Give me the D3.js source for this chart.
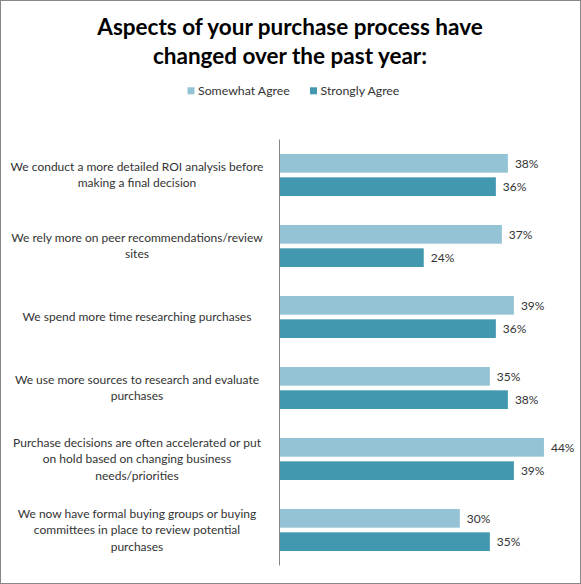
<!DOCTYPE html>
<html>
<head>
<meta charset="utf-8">
<script src="https://cdn.jsdelivr.net/npm/d3@7/dist/d3.min.js"></script>
<style>
html,body{margin:0;padding:0;background:#fff;}
svg{display:block;}
text{font-family:Lato,"Open Sans",sans-serif;}
</style>
</head>
<body>
<svg id="chart" width="581" height="584"></svg>
<script>
const titleLines = ["Aspects of your purchase process have", "changed over the past year:"];
const categories = [
  "We conduct a more detailed ROI analysis before\nmaking a final decision",
  "We rely more on peer recommendations/review\nsites",
  "We spend more time researching purchases",
  "We use more sources to research and evaluate\npurchases",
  "Purchase decisions are often accelerated or put\non hold based on changing business\nneeds/priorities",
  "We now have formal buying groups or buying\ncommittees in place to review potential\npurchases"
];
const seriesNames = ["Somewhat Agree", "Strongly Agree"];
const somewhatAgree = [38, 37, 39, 35, 44, 30];
const stronglyAgree = [36, 24, 36, 38, 39, 35];
const colors = ["#93C3D4", "#4298AF"];

const seriesValues = [somewhatAgree, stronglyAgree];
const svg = d3.select("#chart");
const W = 581, H = 584;

svg.append("rect").attr("x",0.5).attr("y",0.5).attr("width",W-1).attr("height",H-1)
  .attr("fill","#fff").attr("stroke","#888888").attr("stroke-width",1);

// Title
svg.append("text").attr("x",290).attr("y",35).attr("text-anchor","middle")
  .attr("font-size",22.5).attr("font-weight","bold").attr("fill","#000")
  .selectAll("tspan").data(titleLines).join("tspan")
  .attr("x",290).attr("dy",(d,i)=> i===0?0:29.3).text(d=>d);

// Legend
const legendX = [187.5, 310];
const lg = svg.append("g").selectAll("g").data(seriesNames).join("g")
  .attr("transform",(d,i)=>`translate(${legendX[i]},87.3)`);
lg.append("rect").attr("width",7).attr("height",7).attr("fill",(d,i)=>colors[i]);
lg.append("text").attr("x",10.5).attr("y",7.5).attr("font-size",12.3).attr("fill","#333").text(d=>d);

// Scales
const x = d3.scaleLinear().domain([0,50]).range([279.5,580]);
const y = d3.scaleBand().domain(categories).range([139.5,565.5]).padding(0);
const ySub = d3.scaleBand().domain(seriesNames).range([14.5,56.5]).paddingInner(0.2);

const groups = svg.append("g").selectAll("g").data(categories).join("g")
  .attr("transform",d=>`translate(0,${y(d)})`);

seriesNames.forEach((s,si)=>{
  groups.append("rect")
    .attr("x",x(0))
    .attr("y",ySub(s))
    .attr("height",ySub.bandwidth())
    .attr("width",(d,i)=>x(seriesValues[si][i])-x(0))
    .attr("fill",colors[si]);
  groups.append("text")
    .attr("x",(d,i)=>x(seriesValues[si][i])+7)
    .attr("y",ySub(s)+ySub.bandwidth()/2)
    .attr("dy","0.35em")
    .attr("font-size",12).attr("fill","#333")
    .text((d,i)=>seriesValues[si][i]+"%");
});

// Category labels
groups.each(function(d){
  const lines = d.split("\n");
  const lh = 16.3;
  const t = d3.select(this).append("text")
    .attr("text-anchor","middle").attr("font-size",12).attr("fill","#333");
  lines.forEach((ln,i)=>{
    t.append("tspan").attr("x",137)
      .attr("y", y.bandwidth()/2 + (i-(lines.length-1)/2)*lh)
      .attr("dy","0.35em").text(ln);
  });
});

// Axis line
const axis = d3.axisLeft(y).tickSize(0).tickFormat("");
svg.append("g").attr("transform",`translate(${x(0)},0)`).call(axis)
  .call(g=>g.select(".domain").attr("stroke","#868686").attr("d",`M0,${139.5}V${565.5}`));
</script>
</body>
</html>
